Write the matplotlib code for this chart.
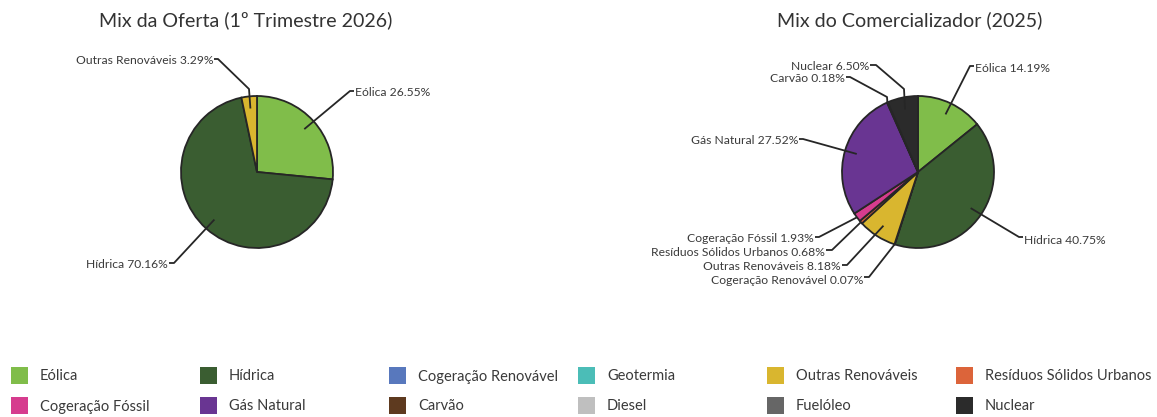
import numpy as np
import matplotlib
matplotlib.use("Agg")
import matplotlib.pyplot as plt
from matplotlib.patches import Rectangle

# ---------------- data ----------------
categories = ['Eólica', 'Hídrica', 'Cogeração Renovável', 'Geotermia',
              'Outras Renováveis', 'Resíduos Sólidos Urbanos', 'Cogeração Fóssil',
              'Gás Natural', 'Carvão', 'Diesel', 'Fuelóleo', 'Nuclear']
colors = ['#80BD4A', '#3A5D31', '#5878BD', '#4BBDB7', '#D9B62F', '#DC643A',
          '#D63C8E', '#693592', '#5E3A1F', '#BFBFBF', '#666666', '#2B2B2B']
oferta_values = [26.55, 70.16, 0, 0, 3.29, 0, 0, 0, 0, 0, 0, 0]
comercializador_values = [14.19, 40.75, 0.07, 0, 8.18, 0.68, 1.93, 27.52, 0.18, 0, 0, 6.50]
title_oferta = 'Mix da Oferta (1º Trimestre 2026)'
title_comercializador = 'Mix do Comercializador (2025)'

# ---------------- layout ----------------
W, H = 1157, 417
FONT = ['Lato', 'DejaVu Sans']
TXT = '#3a3a3a'
EDGE = '#262626'

fig = plt.figure(figsize=(W / 100, H / 100), dpi=100)
fig.patch.set_facecolor('white')

# label layout in figure pixels: (leader elbow points, text pos, ha)
oferta_labels = {
    'Eólica': ([(350, 91), (354, 91)], (355, 93), 'left'),
    'Hídrica': ([(174, 263), (169, 263)], (168, 265), 'right'),
    'Outras Renováveis': ([(249, 89), (218, 59), (214, 59)], (213, 61), 'right'),
}
comerc_labels = {
    'Eólica': ([(970, 66), (974, 66)], (975, 68), 'left'),
    'Hídrica': ([(1019, 237), (1023, 237)], (1024, 240), 'left'),
    'Cogeração Renovável': ([(869, 277), (864, 277)], (863, 280), 'right'),
    'Outras Renováveis': ([(847, 265), (842, 265)], (841, 267), 'right'),
    'Resíduos Sólidos Urbanos': ([(832, 250), (826, 250)], (825, 252), 'right'),
    'Cogeração Fóssil': ([(819, 237), (815, 237)], (814, 239), 'right'),
    'Gás Natural': ([(803, 139), (799, 139)], (798, 141), 'right'),
    'Carvão': ([(887, 97), (850, 77), (846, 77)], (845, 79), 'right'),
    'Nuclear': ([(904, 89), (876, 65), (870, 65)], (869, 67), 'right'),
}


def draw_pie(values, title, x0, x1, cx, cy, R, labels, title_x):
    ax = fig.add_axes([x0 / W, 0, (x1 - x0) / W, 1])
    vals = [v for v in values if v > 0]
    cols = [c for v, c in zip(values, colors) if v > 0]
    names = [n for v, n in zip(values, categories) if v > 0]
    ax.pie(vals, colors=cols, startangle=90, counterclock=False, radius=1,
           wedgeprops=dict(edgecolor=EDGE, linewidth=1.3))
    ax.set_aspect('auto')
    ax.set_xlim((x0 - cx) / R, (x1 - cx) / R)
    ax.set_ylim((cy - H) / R, cy / R)
    ax.axis('off')

    def px(p):
        return ((p[0] - cx) / R, (cy - p[1]) / R)

    total = sum(vals)
    cum = 0.0
    for v, n in zip(vals, names):
        mid = 90 - (cum + v / 2) / total * 360
        cum += v
        if n not in labels:
            continue
        rf = 0.84 if v >= 2.0 else 1.0
        inner = (rf * np.cos(np.radians(mid)), rf * np.sin(np.radians(mid)))
        pts, tpos, ha = labels[n]
        path = [inner] + [px(p) for p in pts]
        xs, ys = zip(*path)
        ax.plot(xs, ys, color=EDGE, lw=1.3, solid_capstyle='butt', clip_on=False)
        tx, ty = px(tpos)
        ax.text(tx, ty, f'{n} {v:.2f}%', ha=ha, va='center', fontsize=8.75,
                color=TXT, family=FONT, clip_on=False)
    fig.text(title_x / W, 1 - 20 / H, title, ha='center', va='center',
             fontsize=14.1, color='#333333', family=FONT)


draw_pie(oferta_values, title_oferta, 0, 578.5, 257, 172, 76, oferta_labels, 246)
draw_pie(comercializador_values, title_comercializador, 578.5, W, 918, 172, 76,
         comerc_labels, 910)

# ---------------- legend (2 rows x 6 columns) ----------------
col_x = [11, 200, 389, 578, 767, 956]
row_y = [375, 405]
for i, (name, col) in enumerate(zip(categories, colors)):
    r, c = divmod(i, 6)
    x, y = col_x[c], row_y[r]
    fig.patches.append(Rectangle((x / W, 1 - (y + 8.5) / H), 17 / W, 17 / H,
                                 transform=fig.transFigure, facecolor=col,
                                 edgecolor='none'))
    fig.text((x + 29) / W, 1 - (y + 1.5) / H, name, ha='left', va='center',
             fontsize=10.5, color=TXT, family=FONT)

fig.savefig('out.png', dpi=100, facecolor='white')
